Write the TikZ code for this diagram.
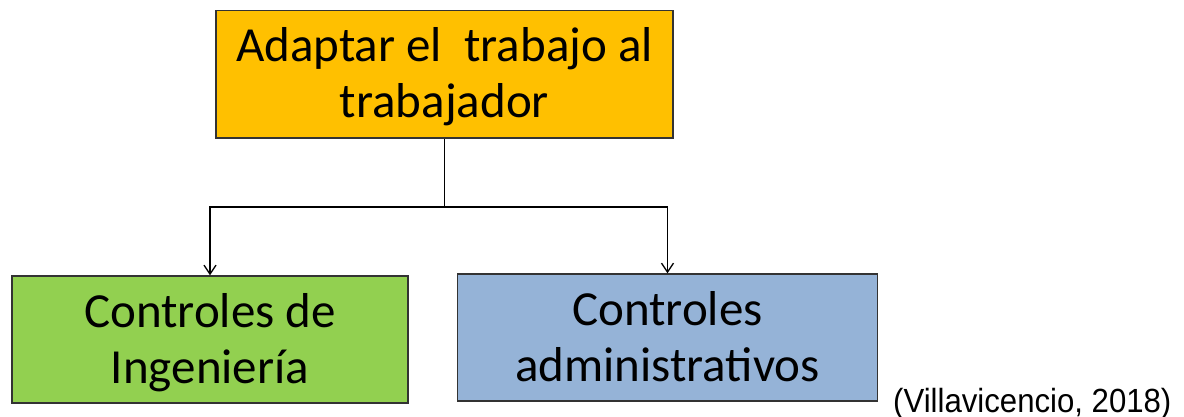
\documentclass[tikz,border=0pt]{standalone}
\usepackage{fontspec}
\setmainfont{Carlito}
\newfontfamily\citefont{Liberation Sans}
\usetikzlibrary{arrows.meta}
\definecolor{boxorange}{HTML}{FFC000}
\definecolor{boxgreen}{HTML}{92D050}
\definecolor{boxblue}{HTML}{95B3D7}
\tikzset{
  box/.style={draw=black!80, line width=1.4pt, inner sep=0pt, align=center,
    font=\fontsize{49}{56}\selectfont, text=black, text height=96pt, text depth=9pt},
  conn/.style={draw=black, line width=1.3pt, -{Straight Barb[length=9pt,width=12pt,line width=1.3pt]}},
  plain/.style={draw=black, line width=1.3pt}
}
\begin{document}
\begin{tikzpicture}[x=1pt,y=-1pt]
\useasboundingbox (0,0) rectangle (1184,417);
\node[box, fill=boxorange, minimum width=457pt, minimum height=127.5pt] (top) at (444.5,74.4) {Adaptar el \ trabajo al\\trabajador};
\node[box, fill=boxgreen, minimum width=396pt, minimum height=127pt] (g) at (210,339.5) {Controles de\\Ingeniería};
\node[box, fill=boxblue, minimum width=420pt, minimum height=127pt] (b) at (667.5,337.5) {Controles\\administrativos};
\coordinate (j) at (444.5,207);
\draw[plain] (top.south) -- (j);
\draw[conn] (j) -| (g.north);
\draw[conn] (j) -| (b.north);
\node[anchor=base west, inner sep=0pt, font=\citefont\fontsize{33.5}{40}\selectfont, xscale=0.93] (cite) at (893,412) {(Villavicencio, 2018)};
\end{tikzpicture}
\end{document}
